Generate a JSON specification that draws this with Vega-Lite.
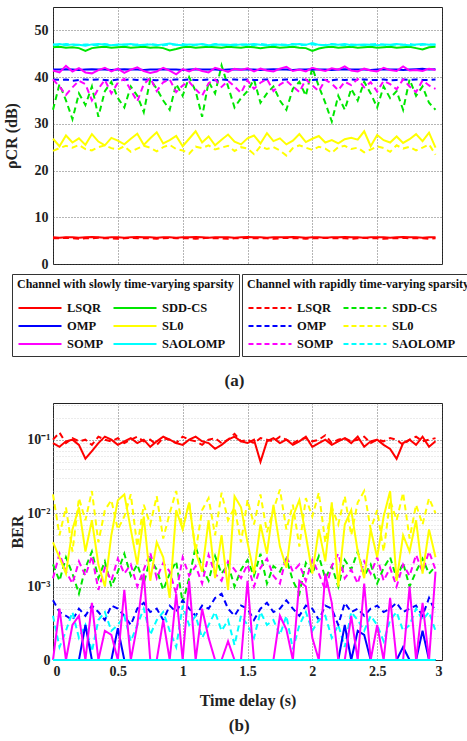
{
"$schema": "https://vega.github.io/schema/vega-lite/v6.json",
"padding": {"left": 2, "top": 6, "right": 0, "bottom": 5},
"background": "white",
"config": {
  "font": "Liberation Serif",
  "view": {"stroke": "#222", "strokeWidth": 1},
  "axis": {"labelFont": "Liberation Serif", "labelFontWeight": "bold", "labelFontSize": 14, "labelColor": "#222", "titleFont": "Liberation Serif", "titleFontWeight": "bold", "titleFontSize": 16, "titleColor": "#222", "domain": false, "ticks": false, "labelPadding": 5, "grid": true, "gridColor": "#444", "gridDash": [1, 2], "gridWidth": 0.8},
  "legend": {"titleFont": "Liberation Serif", "titleFontWeight": "bold", "titleFontSize": 12, "titleColor": "#111", "titleLimit": 400, "titlePadding": 10, "labelFont": "Liberation Serif", "labelFontWeight": "bold", "labelFontSize": 12.5, "labelColor": "#111", "symbolType": "stroke", "symbolSize": 1850, "symbolStrokeWidth": 2, "columns": 2, "direction": "horizontal", "clipHeight": 14, "columnPadding": 8, "rowPadding": 4, "strokeColor": "#333", "fillColor": "white", "padding": 5, "labelOffset": 4},
  "title": {"font": "Liberation Serif", "fontWeight": "bold", "fontSize": 17, "color": "#222"}
},
"datasets": {
"rs": [
{"t":0,"LSQR":5.7,"SDD-CS":46.4,"OMP":41.6,"SL0":26.8,"SOMP":41.4,"SAOLOMP":46.9},
{"t":0.05,"LSQR":5.6,"SDD-CS":46.5,"OMP":41.6,"SL0":25.2,"SOMP":41.0,"SAOLOMP":47.1},
{"t":0.1,"LSQR":5.7,"SDD-CS":46.3,"OMP":41.7,"SL0":27.5,"SOMP":42.4,"SAOLOMP":46.8},
{"t":0.15,"LSQR":5.7,"SDD-CS":46.4,"OMP":41.6,"SL0":26.0,"SOMP":41.2,"SAOLOMP":47.0},
{"t":0.2,"LSQR":5.6,"SDD-CS":46.2,"OMP":41.5,"SL0":26.9,"SOMP":41.9,"SAOLOMP":46.9},
{"t":0.25,"LSQR":5.7,"SDD-CS":45.6,"OMP":41.6,"SL0":25.5,"SOMP":41.0,"SAOLOMP":46.7},
{"t":0.3,"LSQR":5.8,"SDD-CS":46.2,"OMP":41.7,"SL0":27.8,"SOMP":40.8,"SAOLOMP":47.0},
{"t":0.35,"LSQR":5.7,"SDD-CS":46.4,"OMP":41.6,"SL0":26.2,"SOMP":41.5,"SAOLOMP":47.1},
{"t":0.4,"LSQR":5.6,"SDD-CS":46.5,"OMP":41.6,"SL0":25.4,"SOMP":42.0,"SAOLOMP":46.9},
{"t":0.45,"LSQR":5.7,"SDD-CS":46.3,"OMP":41.5,"SL0":27.0,"SOMP":41.2,"SAOLOMP":46.8},
{"t":0.5,"LSQR":5.7,"SDD-CS":46.4,"OMP":41.6,"SL0":26.4,"SOMP":41.8,"SAOLOMP":47.0},
{"t":0.55,"LSQR":5.6,"SDD-CS":46.5,"OMP":41.7,"SL0":25.6,"SOMP":40.9,"SAOLOMP":46.9},
{"t":0.6,"LSQR":5.7,"SDD-CS":46.3,"OMP":41.6,"SL0":26.8,"SOMP":41.6,"SAOLOMP":47.1},
{"t":0.65,"LSQR":5.8,"SDD-CS":46.4,"OMP":41.6,"SL0":27.9,"SOMP":42.1,"SAOLOMP":46.8},
{"t":0.7,"LSQR":5.7,"SDD-CS":46.5,"OMP":41.5,"SL0":25.5,"SOMP":41.3,"SAOLOMP":46.9},
{"t":0.75,"LSQR":5.7,"SDD-CS":46.3,"OMP":41.6,"SL0":26.9,"SOMP":40.9,"SAOLOMP":47.0},
{"t":0.8,"LSQR":5.6,"SDD-CS":46.4,"OMP":41.6,"SL0":28.2,"SOMP":41.2,"SAOLOMP":46.8},
{"t":0.85,"LSQR":5.7,"SDD-CS":46.2,"OMP":41.7,"SL0":25.8,"SOMP":42.0,"SAOLOMP":47.0},
{"t":0.9,"LSQR":5.7,"SDD-CS":45.7,"OMP":41.6,"SL0":26.5,"SOMP":41.4,"SAOLOMP":47.2},
{"t":0.95,"LSQR":5.6,"SDD-CS":46.0,"OMP":41.6,"SL0":27.4,"SOMP":40.6,"SAOLOMP":46.9},
{"t":1,"LSQR":5.7,"SDD-CS":46.4,"OMP":41.5,"SL0":25.2,"SOMP":41.7,"SAOLOMP":46.8},
{"t":1.05,"LSQR":5.7,"SDD-CS":46.5,"OMP":41.6,"SL0":26.8,"SOMP":41.2,"SAOLOMP":47.0},
{"t":1.1,"LSQR":5.8,"SDD-CS":46.3,"OMP":41.7,"SL0":28.4,"SOMP":41.8,"SAOLOMP":46.9},
{"t":1.15,"LSQR":5.7,"SDD-CS":46.4,"OMP":41.6,"SL0":26.0,"SOMP":41.3,"SAOLOMP":47.1},
{"t":1.2,"LSQR":5.6,"SDD-CS":46.5,"OMP":41.6,"SL0":27.3,"SOMP":41.0,"SAOLOMP":46.8},
{"t":1.25,"LSQR":5.7,"SDD-CS":46.4,"OMP":41.6,"SL0":25.4,"SOMP":42.0,"SAOLOMP":46.9},
{"t":1.3,"LSQR":5.7,"SDD-CS":46.3,"OMP":41.5,"SL0":26.6,"SOMP":41.6,"SAOLOMP":47.0},
{"t":1.35,"LSQR":5.7,"SDD-CS":46.5,"OMP":41.6,"SL0":27.7,"SOMP":41.1,"SAOLOMP":46.9},
{"t":1.4,"LSQR":5.6,"SDD-CS":46.4,"OMP":41.7,"SL0":26.2,"SOMP":41.8,"SAOLOMP":46.8},
{"t":1.45,"LSQR":5.7,"SDD-CS":46.3,"OMP":41.6,"SL0":25.6,"SOMP":41.5,"SAOLOMP":47.0},
{"t":1.5,"LSQR":5.8,"SDD-CS":46.5,"OMP":41.6,"SL0":26.9,"SOMP":41.9,"SAOLOMP":46.9},
{"t":1.55,"LSQR":5.7,"SDD-CS":46.4,"OMP":41.6,"SL0":27.5,"SOMP":41.2,"SAOLOMP":47.1},
{"t":1.6,"LSQR":5.7,"SDD-CS":46.2,"OMP":41.5,"SL0":25.8,"SOMP":41.8,"SAOLOMP":46.9},
{"t":1.65,"LSQR":5.6,"SDD-CS":46.4,"OMP":41.6,"SL0":28.0,"SOMP":41.4,"SAOLOMP":46.8},
{"t":1.7,"LSQR":5.7,"SDD-CS":46.5,"OMP":41.7,"SL0":26.3,"SOMP":41.2,"SAOLOMP":47.0},
{"t":1.75,"LSQR":5.7,"SDD-CS":46.3,"OMP":41.6,"SL0":26.9,"SOMP":41.8,"SAOLOMP":46.9},
{"t":1.8,"LSQR":5.7,"SDD-CS":46.4,"OMP":41.6,"SL0":25.6,"SOMP":42.2,"SAOLOMP":46.8},
{"t":1.85,"LSQR":5.8,"SDD-CS":46.5,"OMP":41.5,"SL0":26.4,"SOMP":41.3,"SAOLOMP":47.0},
{"t":1.9,"LSQR":5.7,"SDD-CS":46.3,"OMP":41.6,"SL0":27.8,"SOMP":41.6,"SAOLOMP":47.1},
{"t":1.95,"LSQR":5.6,"SDD-CS":46.2,"OMP":41.6,"SL0":26.1,"SOMP":41.2,"SAOLOMP":46.9},
{"t":2,"LSQR":5.7,"SDD-CS":45.6,"OMP":41.7,"SL0":26.8,"SOMP":42.0,"SAOLOMP":47.3},
{"t":2.05,"LSQR":5.7,"SDD-CS":46.1,"OMP":41.6,"SL0":27.4,"SOMP":41.6,"SAOLOMP":46.9},
{"t":2.1,"LSQR":5.6,"SDD-CS":46.4,"OMP":41.6,"SL0":26.0,"SOMP":41.3,"SAOLOMP":46.8},
{"t":2.15,"LSQR":5.7,"SDD-CS":46.5,"OMP":41.5,"SL0":26.5,"SOMP":41.9,"SAOLOMP":47.0},
{"t":2.2,"LSQR":5.7,"SDD-CS":46.3,"OMP":41.6,"SL0":25.8,"SOMP":41.6,"SAOLOMP":46.9},
{"t":2.25,"LSQR":5.8,"SDD-CS":46.4,"OMP":41.7,"SL0":26.7,"SOMP":42.3,"SAOLOMP":47.1},
{"t":2.3,"LSQR":5.7,"SDD-CS":46.5,"OMP":41.6,"SL0":27.0,"SOMP":41.4,"SAOLOMP":46.8},
{"t":2.35,"LSQR":5.7,"SDD-CS":46.3,"OMP":41.6,"SL0":26.6,"SOMP":41.2,"SAOLOMP":46.9},
{"t":2.4,"LSQR":5.6,"SDD-CS":46.4,"OMP":41.6,"SL0":28.4,"SOMP":41.8,"SAOLOMP":47.0},
{"t":2.45,"LSQR":5.7,"SDD-CS":46.5,"OMP":41.5,"SL0":25.2,"SOMP":41.4,"SAOLOMP":46.9},
{"t":2.5,"LSQR":5.7,"SDD-CS":46.3,"OMP":41.6,"SL0":27.6,"SOMP":41.2,"SAOLOMP":46.8},
{"t":2.55,"LSQR":5.7,"SDD-CS":46.4,"OMP":41.7,"SL0":26.5,"SOMP":42.0,"SAOLOMP":47.0},
{"t":2.6,"LSQR":5.6,"SDD-CS":46.5,"OMP":41.6,"SL0":26.0,"SOMP":41.5,"SAOLOMP":46.9},
{"t":2.65,"LSQR":5.7,"SDD-CS":46.3,"OMP":41.6,"SL0":27.3,"SOMP":41.3,"SAOLOMP":47.1},
{"t":2.7,"LSQR":5.8,"SDD-CS":46.4,"OMP":41.5,"SL0":25.9,"SOMP":42.3,"SAOLOMP":46.9},
{"t":2.75,"LSQR":5.7,"SDD-CS":46.5,"OMP":41.6,"SL0":26.7,"SOMP":41.4,"SAOLOMP":46.8},
{"t":2.8,"LSQR":5.7,"SDD-CS":46.2,"OMP":41.7,"SL0":27.8,"SOMP":41.5,"SAOLOMP":47.0},
{"t":2.85,"LSQR":5.6,"SDD-CS":45.9,"OMP":41.8,"SL0":26.3,"SOMP":41.3,"SAOLOMP":47.1},
{"t":2.9,"LSQR":5.7,"SDD-CS":46.4,"OMP":41.6,"SL0":28.1,"SOMP":41.8,"SAOLOMP":46.9},
{"t":2.95,"LSQR":5.7,"SDD-CS":46.5,"OMP":41.7,"SL0":24.9,"SOMP":41.5,"SAOLOMP":47.0}
],
"rr": [
{"t":0,"LSQR":5.5,"SDD-CS":33.0,"OMP":39.5,"SL0":24.2,"SOMP":39.5,"SAOLOMP":47.0},
{"t":0.05,"LSQR":5.5,"SDD-CS":38.5,"OMP":39.4,"SL0":24.8,"SOMP":38.0,"SAOLOMP":46.8},
{"t":0.1,"LSQR":5.6,"SDD-CS":35.0,"OMP":39.5,"SL0":25.3,"SOMP":36.2,"SAOLOMP":47.1},
{"t":0.15,"LSQR":5.5,"SDD-CS":31.0,"OMP":39.2,"SL0":24.9,"SOMP":37.8,"SAOLOMP":46.9},
{"t":0.2,"LSQR":5.4,"SDD-CS":36.5,"OMP":39.4,"SL0":25.5,"SOMP":39.2,"SAOLOMP":46.8},
{"t":0.25,"LSQR":5.5,"SDD-CS":34.0,"OMP":39.5,"SL0":24.6,"SOMP":38.5,"SAOLOMP":47.0},
{"t":0.3,"LSQR":5.5,"SDD-CS":38.0,"OMP":39.4,"SL0":24.3,"SOMP":35.0,"SAOLOMP":46.9},
{"t":0.35,"LSQR":5.6,"SDD-CS":31.5,"OMP":39.5,"SL0":25.0,"SOMP":37.5,"SAOLOMP":46.8},
{"t":0.4,"LSQR":5.5,"SDD-CS":37.0,"OMP":39.4,"SL0":25.4,"SOMP":39.4,"SAOLOMP":47.1},
{"t":0.45,"LSQR":5.5,"SDD-CS":39.0,"OMP":39.3,"SL0":24.8,"SOMP":36.5,"SAOLOMP":46.9},
{"t":0.5,"LSQR":5.4,"SDD-CS":35.5,"OMP":39.5,"SL0":24.5,"SOMP":38.8,"SAOLOMP":46.8},
{"t":0.55,"LSQR":5.5,"SDD-CS":33.5,"OMP":39.4,"SL0":25.2,"SOMP":39.6,"SAOLOMP":47.0},
{"t":0.6,"LSQR":5.6,"SDD-CS":38.0,"OMP":39.5,"SL0":24.0,"SOMP":37.2,"SAOLOMP":46.9},
{"t":0.65,"LSQR":5.5,"SDD-CS":36.0,"OMP":39.4,"SL0":24.7,"SOMP":34.8,"SAOLOMP":47.0},
{"t":0.7,"LSQR":5.5,"SDD-CS":32.5,"OMP":39.5,"SL0":25.3,"SOMP":38.5,"SAOLOMP":46.8},
{"t":0.75,"LSQR":5.5,"SDD-CS":39.5,"OMP":39.4,"SL0":24.9,"SOMP":39.8,"SAOLOMP":47.1},
{"t":0.8,"LSQR":5.4,"SDD-CS":37.5,"OMP":39.3,"SL0":24.1,"SOMP":37.0,"SAOLOMP":46.9},
{"t":0.85,"LSQR":5.5,"SDD-CS":35.0,"OMP":39.5,"SL0":25.0,"SOMP":38.9,"SAOLOMP":46.8},
{"t":0.9,"LSQR":5.6,"SDD-CS":33.0,"OMP":39.4,"SL0":25.5,"SOMP":39.5,"SAOLOMP":47.0},
{"t":0.95,"LSQR":5.5,"SDD-CS":38.5,"OMP":39.5,"SL0":24.6,"SOMP":36.8,"SAOLOMP":46.9},
{"t":1,"LSQR":5.5,"SDD-CS":36.0,"OMP":39.4,"SL0":24.3,"SOMP":38.2,"SAOLOMP":47.1},
{"t":1.05,"LSQR":5.5,"SDD-CS":40.0,"OMP":39.5,"SL0":23.6,"SOMP":39.0,"SAOLOMP":46.8},
{"t":1.1,"LSQR":5.4,"SDD-CS":37.0,"OMP":39.4,"SL0":25.1,"SOMP":37.4,"SAOLOMP":46.9},
{"t":1.15,"LSQR":5.5,"SDD-CS":31.5,"OMP":39.4,"SL0":24.8,"SOMP":36.0,"SAOLOMP":47.0},
{"t":1.2,"LSQR":5.6,"SDD-CS":39.0,"OMP":39.5,"SL0":25.4,"SOMP":38.7,"SAOLOMP":46.8},
{"t":1.25,"LSQR":5.5,"SDD-CS":36.5,"OMP":39.3,"SL0":24.5,"SOMP":39.5,"SAOLOMP":47.1},
{"t":1.3,"LSQR":5.5,"SDD-CS":42.5,"OMP":39.5,"SL0":24.9,"SOMP":37.9,"SAOLOMP":46.9},
{"t":1.35,"LSQR":5.4,"SDD-CS":38.0,"OMP":39.4,"SL0":25.3,"SOMP":39.2,"SAOLOMP":46.8},
{"t":1.4,"LSQR":5.5,"SDD-CS":33.5,"OMP":39.5,"SL0":24.2,"SOMP":38.0,"SAOLOMP":47.0},
{"t":1.45,"LSQR":5.5,"SDD-CS":35.5,"OMP":39.4,"SL0":25.0,"SOMP":36.6,"SAOLOMP":46.9},
{"t":1.5,"LSQR":5.6,"SDD-CS":37.0,"OMP":39.5,"SL0":24.7,"SOMP":39.3,"SAOLOMP":47.0},
{"t":1.55,"LSQR":5.5,"SDD-CS":39.5,"OMP":39.4,"SL0":23.5,"SOMP":37.5,"SAOLOMP":46.8},
{"t":1.6,"LSQR":5.5,"SDD-CS":34.5,"OMP":39.4,"SL0":25.2,"SOMP":38.8,"SAOLOMP":47.1},
{"t":1.65,"LSQR":5.5,"SDD-CS":36.5,"OMP":39.5,"SL0":24.6,"SOMP":39.6,"SAOLOMP":46.9},
{"t":1.7,"LSQR":5.4,"SDD-CS":38.0,"OMP":39.3,"SL0":25.0,"SOMP":37.0,"SAOLOMP":46.8},
{"t":1.75,"LSQR":5.5,"SDD-CS":35.0,"OMP":39.4,"SL0":24.3,"SOMP":38.4,"SAOLOMP":47.0},
{"t":1.8,"LSQR":5.6,"SDD-CS":33.0,"OMP":39.5,"SL0":23.2,"SOMP":39.2,"SAOLOMP":46.9},
{"t":1.85,"LSQR":5.5,"SDD-CS":37.5,"OMP":39.4,"SL0":24.8,"SOMP":38.0,"SAOLOMP":47.1},
{"t":1.9,"LSQR":5.5,"SDD-CS":39.0,"OMP":39.5,"SL0":25.4,"SOMP":36.8,"SAOLOMP":46.8},
{"t":1.95,"LSQR":5.4,"SDD-CS":36.0,"OMP":39.4,"SL0":24.9,"SOMP":39.5,"SAOLOMP":46.9},
{"t":2,"LSQR":5.5,"SDD-CS":42.0,"OMP":39.4,"SL0":24.4,"SOMP":38.2,"SAOLOMP":47.0},
{"t":2.05,"LSQR":5.5,"SDD-CS":38.0,"OMP":39.5,"SL0":25.1,"SOMP":37.0,"SAOLOMP":46.8},
{"t":2.1,"LSQR":5.6,"SDD-CS":34.5,"OMP":39.4,"SL0":24.7,"SOMP":39.4,"SAOLOMP":46.9},
{"t":2.15,"LSQR":5.5,"SDD-CS":30.5,"OMP":39.3,"SL0":23.8,"SOMP":38.6,"SAOLOMP":47.1},
{"t":2.2,"LSQR":5.5,"SDD-CS":36.0,"OMP":39.5,"SL0":25.0,"SOMP":37.2,"SAOLOMP":46.9},
{"t":2.25,"LSQR":5.5,"SDD-CS":33.0,"OMP":39.4,"SL0":25.3,"SOMP":39.0,"SAOLOMP":46.8},
{"t":2.3,"LSQR":5.4,"SDD-CS":37.5,"OMP":39.5,"SL0":24.6,"SOMP":38.3,"SAOLOMP":47.0},
{"t":2.35,"LSQR":5.5,"SDD-CS":35.0,"OMP":39.4,"SL0":24.9,"SOMP":39.6,"SAOLOMP":46.9},
{"t":2.4,"LSQR":5.6,"SDD-CS":39.0,"OMP":39.5,"SL0":23.9,"SOMP":37.8,"SAOLOMP":46.8},
{"t":2.45,"LSQR":5.5,"SDD-CS":36.5,"OMP":39.4,"SL0":24.5,"SOMP":38.9,"SAOLOMP":47.0},
{"t":2.5,"LSQR":5.5,"SDD-CS":33.5,"OMP":39.4,"SL0":25.2,"SOMP":36.9,"SAOLOMP":47.1},
{"t":2.55,"LSQR":5.4,"SDD-CS":38.0,"OMP":39.5,"SL0":24.8,"SOMP":39.2,"SAOLOMP":46.9},
{"t":2.6,"LSQR":5.5,"SDD-CS":35.5,"OMP":39.3,"SL0":24.0,"SOMP":38.5,"SAOLOMP":46.8},
{"t":2.65,"LSQR":5.5,"SDD-CS":37.0,"OMP":39.4,"SL0":25.4,"SOMP":37.4,"SAOLOMP":47.0},
{"t":2.7,"LSQR":5.6,"SDD-CS":33.0,"OMP":39.5,"SL0":24.7,"SOMP":39.5,"SAOLOMP":46.9},
{"t":2.75,"LSQR":5.5,"SDD-CS":39.5,"OMP":39.4,"SL0":25.1,"SOMP":38.0,"SAOLOMP":47.1},
{"t":2.8,"LSQR":5.5,"SDD-CS":36.0,"OMP":39.5,"SL0":24.3,"SOMP":36.8,"SAOLOMP":46.8},
{"t":2.85,"LSQR":5.5,"SDD-CS":38.0,"OMP":39.4,"SL0":24.9,"SOMP":39.3,"SAOLOMP":46.9},
{"t":2.9,"LSQR":5.4,"SDD-CS":34.5,"OMP":39.4,"SL0":25.6,"SOMP":38.2,"SAOLOMP":47.0},
{"t":2.95,"LSQR":5.5,"SDD-CS":33.0,"OMP":39.5,"SL0":23.4,"SOMP":37.5,"SAOLOMP":46.9}
],
"bs": [
{"t":0,"LSQR":0.09,"SDD-CS":0.0001,"OMP":0.0001,"SL0":0.004,"SOMP":0.0001,"SAOLOMP":0.0001},
{"t":0.05,"LSQR":0.08,"SDD-CS":0.0001,"OMP":0.0001,"SL0":0.0025,"SOMP":0.0005,"SAOLOMP":0.0001},
{"t":0.1,"LSQR":0.095,"SDD-CS":0.0001,"OMP":0.0001,"SL0":0.0015,"SOMP":0.0001,"SAOLOMP":0.0001},
{"t":0.15,"LSQR":0.1,"SDD-CS":0.0001,"OMP":0.0001,"SL0":0.006,"SOMP":0.0003,"SAOLOMP":0.0001},
{"t":0.2,"LSQR":0.085,"SDD-CS":0.0001,"OMP":0.0001,"SL0":0.012,"SOMP":0.0004,"SAOLOMP":0.0001},
{"t":0.25,"LSQR":0.055,"SDD-CS":0.0001,"OMP":0.0003,"SL0":0.003,"SOMP":0.0001,"SAOLOMP":0.0001},
{"t":0.3,"LSQR":0.07,"SDD-CS":0.0001,"OMP":0.0001,"SL0":0.008,"SOMP":0.0006,"SAOLOMP":0.0001},
{"t":0.35,"LSQR":0.09,"SDD-CS":0.0001,"OMP":0.0001,"SL0":0.002,"SOMP":0.0001,"SAOLOMP":0.0001},
{"t":0.4,"LSQR":0.11,"SDD-CS":0.0001,"OMP":0.0001,"SL0":0.001,"SOMP":0.00025,"SAOLOMP":0.0001},
{"t":0.45,"LSQR":0.1,"SDD-CS":0.0001,"OMP":0.0001,"SL0":0.005,"SOMP":0.00022,"SAOLOMP":0.0001},
{"t":0.5,"LSQR":0.085,"SDD-CS":0.0001,"OMP":0.00027,"SL0":0.015,"SOMP":0.0001,"SAOLOMP":0.0001},
{"t":0.55,"LSQR":0.095,"SDD-CS":0.0001,"OMP":0.0001,"SL0":0.018,"SOMP":0.0009,"SAOLOMP":0.0001},
{"t":0.6,"LSQR":0.105,"SDD-CS":0.0001,"OMP":0.0001,"SL0":0.006,"SOMP":0.0001,"SAOLOMP":0.0001},
{"t":0.65,"LSQR":0.09,"SDD-CS":0.0001,"OMP":0.0001,"SL0":0.002,"SOMP":0.0003,"SAOLOMP":0.0001},
{"t":0.7,"LSQR":0.1,"SDD-CS":0.0001,"OMP":0.0001,"SL0":0.009,"SOMP":0.0015,"SAOLOMP":0.0001},
{"t":0.75,"LSQR":0.08,"SDD-CS":0.0001,"OMP":0.0001,"SL0":0.0012,"SOMP":0.0001,"SAOLOMP":0.0001},
{"t":0.8,"LSQR":0.095,"SDD-CS":0.0001,"OMP":0.0001,"SL0":0.004,"SOMP":0.0001,"SAOLOMP":0.0001},
{"t":0.85,"LSQR":0.11,"SDD-CS":0.0001,"OMP":0.0001,"SL0":0.0025,"SOMP":0.00035,"SAOLOMP":0.0001},
{"t":0.9,"LSQR":0.1,"SDD-CS":0.0001,"OMP":0.0001,"SL0":0.0007,"SOMP":0.0001,"SAOLOMP":0.0001},
{"t":0.95,"LSQR":0.09,"SDD-CS":0.0001,"OMP":0.0001,"SL0":0.011,"SOMP":0.0008,"SAOLOMP":0.0001},
{"t":1,"LSQR":0.085,"SDD-CS":0.0001,"OMP":0.0001,"SL0":0.006,"SOMP":0.0001,"SAOLOMP":0.0001},
{"t":1.05,"LSQR":0.1,"SDD-CS":0.0001,"OMP":0.0001,"SL0":0.014,"SOMP":0.0012,"SAOLOMP":0.0001},
{"t":1.1,"LSQR":0.11,"SDD-CS":0.0001,"OMP":0.0001,"SL0":0.003,"SOMP":0.0001,"SAOLOMP":0.0001},
{"t":1.15,"LSQR":0.095,"SDD-CS":0.0001,"OMP":0.0001,"SL0":0.0016,"SOMP":0.0005,"SAOLOMP":0.0001},
{"t":1.2,"LSQR":0.09,"SDD-CS":0.0001,"OMP":0.0001,"SL0":0.008,"SOMP":0.0002,"SAOLOMP":0.0001},
{"t":1.25,"LSQR":0.075,"SDD-CS":0.0001,"OMP":0.0001,"SL0":0.0013,"SOMP":0.0001,"SAOLOMP":0.0001},
{"t":1.3,"LSQR":0.085,"SDD-CS":0.0001,"OMP":0.0001,"SL0":0.005,"SOMP":0.0001,"SAOLOMP":0.0001},
{"t":1.35,"LSQR":0.1,"SDD-CS":0.0001,"OMP":0.0001,"SL0":0.0009,"SOMP":0.00018,"SAOLOMP":0.0001},
{"t":1.4,"LSQR":0.11,"SDD-CS":0.0001,"OMP":0.0001,"SL0":0.017,"SOMP":0.0001,"SAOLOMP":0.0001},
{"t":1.45,"LSQR":0.095,"SDD-CS":0.0001,"OMP":0.0001,"SL0":0.012,"SOMP":0.0001,"SAOLOMP":0.0001},
{"t":1.5,"LSQR":0.09,"SDD-CS":0.0001,"OMP":0.0001,"SL0":0.004,"SOMP":0.0012,"SAOLOMP":0.0001},
{"t":1.55,"LSQR":0.1,"SDD-CS":0.0001,"OMP":0.0001,"SL0":0.0015,"SOMP":0.0001,"SAOLOMP":0.0001},
{"t":1.6,"LSQR":0.05,"SDD-CS":0.0001,"OMP":0.0001,"SL0":0.007,"SOMP":0.0001,"SAOLOMP":0.0001},
{"t":1.65,"LSQR":0.095,"SDD-CS":0.0001,"OMP":0.0001,"SL0":0.0028,"SOMP":0.0001,"SAOLOMP":0.0001},
{"t":1.7,"LSQR":0.105,"SDD-CS":0.0001,"OMP":0.0001,"SL0":0.013,"SOMP":0.0001,"SAOLOMP":0.0001},
{"t":1.75,"LSQR":0.09,"SDD-CS":0.0001,"OMP":0.0001,"SL0":0.0035,"SOMP":0.0004,"SAOLOMP":0.0001},
{"t":1.8,"LSQR":0.1,"SDD-CS":0.0001,"OMP":0.0001,"SL0":0.0018,"SOMP":0.00026,"SAOLOMP":0.0001},
{"t":1.85,"LSQR":0.085,"SDD-CS":0.0001,"OMP":0.0001,"SL0":0.009,"SOMP":0.0001,"SAOLOMP":0.0001},
{"t":1.9,"LSQR":0.095,"SDD-CS":0.0001,"OMP":0.0001,"SL0":0.015,"SOMP":0.0012,"SAOLOMP":0.0001},
{"t":1.95,"LSQR":0.11,"SDD-CS":0.0001,"OMP":0.0001,"SL0":0.005,"SOMP":0.001,"SAOLOMP":0.0001},
{"t":2,"LSQR":0.08,"SDD-CS":0.0001,"OMP":0.0001,"SL0":0.0015,"SOMP":0.0002,"SAOLOMP":0.0001},
{"t":2.05,"LSQR":0.09,"SDD-CS":0.0001,"OMP":0.0001,"SL0":0.006,"SOMP":0.0001,"SAOLOMP":0.0001},
{"t":2.1,"LSQR":0.1,"SDD-CS":0.0001,"OMP":0.0001,"SL0":0.0022,"SOMP":0.0015,"SAOLOMP":0.0001},
{"t":2.15,"LSQR":0.085,"SDD-CS":0.0001,"OMP":0.0001,"SL0":0.014,"SOMP":0.0006,"SAOLOMP":0.0001},
{"t":2.2,"LSQR":0.095,"SDD-CS":0.0001,"OMP":0.0001,"SL0":0.001,"SOMP":0.0001,"SAOLOMP":0.0001},
{"t":2.25,"LSQR":0.105,"SDD-CS":0.0001,"OMP":0.0003,"SL0":0.007,"SOMP":0.0001,"SAOLOMP":0.0001},
{"t":2.3,"LSQR":0.09,"SDD-CS":0.0001,"OMP":0.0001,"SL0":0.011,"SOMP":0.0004,"SAOLOMP":0.0001},
{"t":2.35,"LSQR":0.11,"SDD-CS":0.0001,"OMP":0.00025,"SL0":0.003,"SOMP":0.0001,"SAOLOMP":0.0001},
{"t":2.4,"LSQR":0.08,"SDD-CS":0.0001,"OMP":0.00022,"SL0":0.0013,"SOMP":0.0011,"SAOLOMP":0.0001},
{"t":2.45,"LSQR":0.095,"SDD-CS":0.0001,"OMP":0.0001,"SL0":0.006,"SOMP":0.0001,"SAOLOMP":0.0001},
{"t":2.5,"LSQR":0.1,"SDD-CS":0.0001,"OMP":0.0001,"SL0":0.0025,"SOMP":0.0003,"SAOLOMP":0.0001},
{"t":2.55,"LSQR":0.085,"SDD-CS":0.0001,"OMP":0.0001,"SL0":0.009,"SOMP":0.0001,"SAOLOMP":0.0001},
{"t":2.6,"LSQR":0.075,"SDD-CS":0.0001,"OMP":0.0001,"SL0":0.02,"SOMP":0.0007,"SAOLOMP":0.0001},
{"t":2.65,"LSQR":0.055,"SDD-CS":0.0001,"OMP":0.0001,"SL0":0.0012,"SOMP":0.0001,"SAOLOMP":0.0001},
{"t":2.7,"LSQR":0.09,"SDD-CS":0.0001,"OMP":0.00015,"SL0":0.005,"SOMP":0.0001,"SAOLOMP":0.0001},
{"t":2.75,"LSQR":0.1,"SDD-CS":0.0001,"OMP":0.0001,"SL0":0.003,"SOMP":0.001,"SAOLOMP":0.0001},
{"t":2.8,"LSQR":0.085,"SDD-CS":0.0001,"OMP":0.0001,"SL0":0.008,"SOMP":0.0001,"SAOLOMP":0.0001},
{"t":2.85,"LSQR":0.11,"SDD-CS":0.0001,"OMP":0.00025,"SL0":0.0015,"SOMP":0.0006,"SAOLOMP":0.0001},
{"t":2.9,"LSQR":0.08,"SDD-CS":0.0001,"OMP":0.0001,"SL0":0.006,"SOMP":0.0001,"SAOLOMP":0.0001},
{"t":2.95,"LSQR":0.095,"SDD-CS":0.0001,"OMP":0.0001,"SL0":0.0025,"SOMP":0.0016,"SAOLOMP":0.0001}
],
"br": [
{"t":0,"LSQR":0.1,"SDD-CS":0.002,"OMP":0.00065,"SL0":0.018,"SOMP":0.0013,"SAOLOMP":0.0004},
{"t":0.05,"LSQR":0.125,"SDD-CS":0.0012,"OMP":0.00045,"SL0":0.005,"SOMP":0.0028,"SAOLOMP":0.00015},
{"t":0.1,"LSQR":0.09,"SDD-CS":0.0025,"OMP":0.0004,"SL0":0.012,"SOMP":0.0016,"SAOLOMP":0.00025},
{"t":0.15,"LSQR":0.105,"SDD-CS":0.0015,"OMP":0.00035,"SL0":0.003,"SOMP":0.0011,"SAOLOMP":0.00045},
{"t":0.2,"LSQR":0.095,"SDD-CS":0.0008,"OMP":0.0005,"SL0":0.016,"SOMP":0.0022,"SAOLOMP":0.0002},
{"t":0.25,"LSQR":0.1,"SDD-CS":0.0018,"OMP":0.0004,"SL0":0.008,"SOMP":0.0014,"SAOLOMP":0.0003},
{"t":0.3,"LSQR":0.085,"SDD-CS":0.003,"OMP":0.00055,"SL0":0.02,"SOMP":0.0026,"SAOLOMP":0.00013},
{"t":0.35,"LSQR":0.11,"SDD-CS":0.0013,"OMP":0.00045,"SL0":0.004,"SOMP":0.0009,"SAOLOMP":0.00035},
{"t":0.4,"LSQR":0.1,"SDD-CS":0.0022,"OMP":0.00035,"SL0":0.011,"SOMP":0.0018,"SAOLOMP":0.00045},
{"t":0.45,"LSQR":0.095,"SDD-CS":0.001,"OMP":0.00055,"SL0":0.015,"SOMP":0.0012,"SAOLOMP":0.00025},
{"t":0.5,"LSQR":0.105,"SDD-CS":0.0016,"OMP":0.0005,"SL0":0.006,"SOMP":0.0024,"SAOLOMP":0.0003},
{"t":0.55,"LSQR":0.09,"SDD-CS":0.0028,"OMP":0.0004,"SL0":0.009,"SOMP":0.0015,"SAOLOMP":0.0004},
{"t":0.6,"LSQR":0.1,"SDD-CS":0.0014,"OMP":0.0003,"SL0":0.018,"SOMP":0.002,"SAOLOMP":0.00018},
{"t":0.65,"LSQR":0.11,"SDD-CS":0.002,"OMP":0.0005,"SL0":0.0035,"SOMP":0.001,"SAOLOMP":0.0003},
{"t":0.7,"LSQR":0.095,"SDD-CS":0.0011,"OMP":0.0006,"SL0":0.013,"SOMP":0.0017,"SAOLOMP":0.0005},
{"t":0.75,"LSQR":0.1,"SDD-CS":0.0024,"OMP":0.00045,"SL0":0.007,"SOMP":0.0029,"SAOLOMP":0.00022},
{"t":0.8,"LSQR":0.085,"SDD-CS":0.0017,"OMP":0.0005,"SL0":0.017,"SOMP":0.0013,"SAOLOMP":0.00035},
{"t":0.85,"LSQR":0.105,"SDD-CS":0.0009,"OMP":0.00035,"SL0":0.0045,"SOMP":0.0021,"SAOLOMP":0.00045},
{"t":0.9,"LSQR":0.1,"SDD-CS":0.0015,"OMP":0.00055,"SL0":0.01,"SOMP":0.0016,"SAOLOMP":0.00025},
{"t":0.95,"LSQR":0.09,"SDD-CS":0.0022,"OMP":0.00045,"SL0":0.02,"SOMP":0.0008,"SAOLOMP":0.00015},
{"t":1,"LSQR":0.11,"SDD-CS":0.0006,"OMP":0.00065,"SL0":0.006,"SOMP":0.0025,"SAOLOMP":0.00055},
{"t":1.05,"LSQR":0.1,"SDD-CS":0.0013,"OMP":0.0005,"SL0":0.014,"SOMP":0.0014,"SAOLOMP":0.0003},
{"t":1.1,"LSQR":0.095,"SDD-CS":0.0035,"OMP":0.0004,"SL0":0.003,"SOMP":0.0019,"SAOLOMP":0.0004},
{"t":1.15,"LSQR":0.085,"SDD-CS":0.0018,"OMP":0.00055,"SL0":0.011,"SOMP":0.0011,"SAOLOMP":0.0002},
{"t":1.2,"LSQR":0.1,"SDD-CS":0.0012,"OMP":0.0005,"SL0":0.016,"SOMP":0.0027,"SAOLOMP":0.0003},
{"t":1.25,"LSQR":0.105,"SDD-CS":0.0026,"OMP":0.0007,"SL0":0.005,"SOMP":0.0015,"SAOLOMP":0.00045},
{"t":1.3,"LSQR":0.09,"SDD-CS":0.0015,"OMP":0.0008,"SL0":0.019,"SOMP":0.0012,"SAOLOMP":0.00025},
{"t":1.35,"LSQR":0.1,"SDD-CS":0.002,"OMP":0.0005,"SL0":0.008,"SOMP":0.0022,"SAOLOMP":0.00035},
{"t":1.4,"LSQR":0.12,"SDD-CS":0.001,"OMP":0.0004,"SL0":0.012,"SOMP":0.0017,"SAOLOMP":0.00016},
{"t":1.45,"LSQR":0.095,"SDD-CS":0.0017,"OMP":0.00055,"SL0":0.004,"SOMP":0.0013,"SAOLOMP":0.0004},
{"t":1.5,"LSQR":0.1,"SDD-CS":0.0023,"OMP":0.0005,"SL0":0.015,"SOMP":0.002,"SAOLOMP":0.0003},
{"t":1.55,"LSQR":0.09,"SDD-CS":0.0014,"OMP":0.00035,"SL0":0.007,"SOMP":0.001,"SAOLOMP":0.0002},
{"t":1.6,"LSQR":0.105,"SDD-CS":0.0028,"OMP":0.0005,"SL0":0.018,"SOMP":0.0018,"SAOLOMP":0.00045},
{"t":1.65,"LSQR":0.1,"SDD-CS":0.0011,"OMP":0.0006,"SL0":0.0055,"SOMP":0.0024,"SAOLOMP":0.0003},
{"t":1.7,"LSQR":0.095,"SDD-CS":0.0019,"OMP":0.00045,"SL0":0.011,"SOMP":0.0014,"SAOLOMP":0.00035},
{"t":1.75,"LSQR":0.11,"SDD-CS":0.0016,"OMP":0.0005,"SL0":0.021,"SOMP":0.0011,"SAOLOMP":0.00022},
{"t":1.8,"LSQR":0.1,"SDD-CS":0.0024,"OMP":0.00065,"SL0":0.006,"SOMP":0.0026,"SAOLOMP":0.0004},
{"t":1.85,"LSQR":0.09,"SDD-CS":0.0012,"OMP":0.0005,"SL0":0.013,"SOMP":0.0016,"SAOLOMP":0.00014},
{"t":1.9,"LSQR":0.1,"SDD-CS":0.0008,"OMP":0.0004,"SL0":0.0035,"SOMP":0.002,"SAOLOMP":0.0003},
{"t":1.95,"LSQR":0.105,"SDD-CS":0.0021,"OMP":0.00055,"SL0":0.016,"SOMP":0.0012,"SAOLOMP":0.00045},
{"t":2,"LSQR":0.095,"SDD-CS":0.0015,"OMP":0.0005,"SL0":0.009,"SOMP":0.0023,"SAOLOMP":0.00025},
{"t":2.05,"LSQR":0.1,"SDD-CS":0.0026,"OMP":0.00035,"SL0":0.019,"SOMP":0.0015,"SAOLOMP":0.00035},
{"t":2.1,"LSQR":0.115,"SDD-CS":0.0013,"OMP":0.00055,"SL0":0.004,"SOMP":0.0009,"SAOLOMP":0.0004},
{"t":2.15,"LSQR":0.09,"SDD-CS":0.0019,"OMP":0.0005,"SL0":0.012,"SOMP":0.0019,"SAOLOMP":0.0002},
{"t":2.2,"LSQR":0.1,"SDD-CS":0.001,"OMP":0.0003,"SL0":0.007,"SOMP":0.0028,"SAOLOMP":0.0003},
{"t":2.25,"LSQR":0.105,"SDD-CS":0.0023,"OMP":0.0006,"SL0":0.017,"SOMP":0.0013,"SAOLOMP":0.00015},
{"t":2.3,"LSQR":0.095,"SDD-CS":0.0017,"OMP":0.00045,"SL0":0.005,"SOMP":0.0017,"SAOLOMP":0.00045},
{"t":2.35,"LSQR":0.1,"SDD-CS":0.003,"OMP":0.0005,"SL0":0.014,"SOMP":0.0011,"SAOLOMP":0.00035},
{"t":2.4,"LSQR":0.11,"SDD-CS":0.0014,"OMP":0.0004,"SL0":0.02,"SOMP":0.0022,"SAOLOMP":0.00025},
{"t":2.45,"LSQR":0.09,"SDD-CS":0.002,"OMP":0.0005,"SL0":0.006,"SOMP":0.0015,"SAOLOMP":0.0004},
{"t":2.5,"LSQR":0.1,"SDD-CS":0.0011,"OMP":0.00055,"SL0":0.011,"SOMP":0.0025,"SAOLOMP":0.0003},
{"t":2.55,"LSQR":0.095,"SDD-CS":0.0018,"OMP":0.00045,"SL0":0.003,"SOMP":0.0012,"SAOLOMP":0.00018},
{"t":2.6,"LSQR":0.105,"SDD-CS":0.0025,"OMP":0.0005,"SL0":0.015,"SOMP":0.0018,"SAOLOMP":0.00035},
{"t":2.65,"LSQR":0.1,"SDD-CS":0.0013,"OMP":0.0006,"SL0":0.008,"SOMP":0.001,"SAOLOMP":0.00045},
{"t":2.7,"LSQR":0.085,"SDD-CS":0.0021,"OMP":0.00045,"SL0":0.019,"SOMP":0.002,"SAOLOMP":0.00025},
{"t":2.75,"LSQR":0.1,"SDD-CS":0.001,"OMP":0.0005,"SL0":0.0045,"SOMP":0.0014,"SAOLOMP":0.0003},
{"t":2.8,"LSQR":0.11,"SDD-CS":0.0016,"OMP":0.00055,"SL0":0.013,"SOMP":0.0027,"SAOLOMP":0.0005},
{"t":2.85,"LSQR":0.095,"SDD-CS":0.0024,"OMP":0.0004,"SL0":0.007,"SOMP":0.0016,"SAOLOMP":0.00035},
{"t":2.9,"LSQR":0.1,"SDD-CS":0.0015,"OMP":0.0007,"SL0":0.016,"SOMP":0.003,"SAOLOMP":0.00045},
{"t":2.95,"LSQR":0.105,"SDD-CS":0.0019,"OMP":0.00045,"SL0":0.01,"SOMP":0.0017,"SAOLOMP":0.00025}
]
},
"vconcat": [
{
  "width": 389, "height": 257,
  "layer": [
    {
      "data": {"name": "rr"},
      "transform": [{"fold": ["LSQR", "SDD-CS", "OMP", "SL0", "SOMP", "SAOLOMP"], "as": ["method", "value"]}],
      "mark": {"type": "line", "strokeWidth": 2, "strokeDash": [6, 4]},
      "encoding": {
        "x": {"field": "t", "type": "quantitative", "scale": {"domain": [0, 3], "nice": false}, "axis": {"values": [0, 0.5, 1, 1.5, 2, 2.5, 3], "labels": false, "title": null}},
        "y": {"field": "value", "type": "quantitative", "scale": {"domain": [0, 55], "nice": false}, "axis": {"values": [0, 10, 20, 30, 40, 50], "title": "ρCR (dB)", "titlePadding": 15}},
        "color": {"field": "method", "type": "nominal", "scale": {"domain": ["LSQR", "SDD-CS", "OMP", "SL0", "SOMP", "SAOLOMP"], "range": ["#ff0000", "#00e600", "#0000ff", "#ffff00", "#ff00ff", "#00ffff"]}, "legend": {"title": "Channel with rapidly time-varying sparsity", "orient": "none", "legendX": 189, "legendY": 267, "symbolDash": [5, 3]}}
      }
    },
    {
      "data": {"name": "rs"},
      "transform": [{"fold": ["LSQR", "SDD-CS", "OMP", "SL0", "SOMP", "SAOLOMP"], "as": ["method", "value"]}],
      "mark": {"type": "line", "strokeWidth": 2},
      "encoding": {
        "x": {"field": "t", "type": "quantitative"},
        "y": {"field": "value", "type": "quantitative"},
        "color": {"field": "method", "type": "nominal", "scale": {"domain": ["LSQR", "SDD-CS", "OMP", "SL0", "SOMP", "SAOLOMP"], "range": ["#ff0000", "#00e600", "#0000ff", "#ffff00", "#ff00ff", "#00ffff"]}, "legend": {"title": "Channel with slowly time-varying sparsity", "orient": "none", "legendX": -41, "legendY": 267}}
      }
    }
  ],
  "resolve": {"scale": {"color": "independent"}, "legend": {"color": "independent"}}
},
{
  "width": 389, "height": 257,
  "title": {"text": "(a)", "orient": "top", "anchor": "middle", "dx": -13, "offset": 8},
  "layer": [
    {
      "data": {"name": "br"},
      "transform": [{"fold": ["LSQR", "SDD-CS", "OMP", "SL0", "SOMP", "SAOLOMP"], "as": ["method", "value"]}],
      "mark": {"type": "line", "strokeWidth": 2, "strokeDash": [6, 4]},
      "encoding": {
        "x": {"field": "t", "type": "quantitative", "scale": {"domain": [0, 3], "nice": false}, "axis": {"values": [0, 0.5, 1, 1.5, 2, 2.5, 3], "format": "~g", "title": "Time delay (s)", "labelPadding": 4, "titlePadding": 14}},
        "y": {"field": "value", "type": "quantitative", "scale": {"type": "log", "domain": [0.0001, 0.316], "nice": false}, "axis": {"values": [0.0001, 0.0002, 0.0003, 0.0004, 0.0005, 0.0006, 0.0007, 0.0008, 0.0009, 0.001, 0.002, 0.003, 0.004, 0.005, 0.006, 0.007, 0.008, 0.009, 0.01, 0.02, 0.03, 0.04, 0.05, 0.06, 0.07, 0.08, 0.09, 0.1, 0.2, 0.3], "labelExpr": "datum.value == 0.0001 ? '0' : datum.value == 0.001 ? '10⁻³' : datum.value == 0.01 ? '10⁻²' : datum.value == 0.1 ? '10⁻¹' : ''", "labelOverlap": false, "labelBound": false, "labelPadding": 3, "titlePadding": 1, "gridColor": {"condition": {"test": "indexof([0.0001, 0.001, 0.01, 0.1], datum.value) >= 0", "value": "#444"}, "value": "#cfcfcf"}, "title": "BER"}},
        "color": {"field": "method", "type": "nominal", "scale": {"domain": ["LSQR", "SDD-CS", "OMP", "SL0", "SOMP", "SAOLOMP"], "range": ["#ff0000", "#00e600", "#0000ff", "#ffff00", "#ff00ff", "#00ffff"]}, "legend": null}
      }
    },
    {
      "data": {"name": "bs"},
      "transform": [{"fold": ["LSQR", "SDD-CS", "OMP", "SL0", "SOMP", "SAOLOMP"], "as": ["method", "value"]}],
      "mark": {"type": "line", "strokeWidth": 2},
      "encoding": {
        "x": {"field": "t", "type": "quantitative"},
        "y": {"field": "value", "type": "quantitative"},
        "color": {"field": "method", "type": "nominal", "legend": null}
      }
    }
  ]
}
],
"spacing": 14,
"resolve": {"scale": {"x": "independent", "y": "independent", "color": "independent"}, "legend": {"color": "independent"}},
"title": {"text": "(b)", "orient": "bottom", "anchor": "middle", "offset": 9}
}
